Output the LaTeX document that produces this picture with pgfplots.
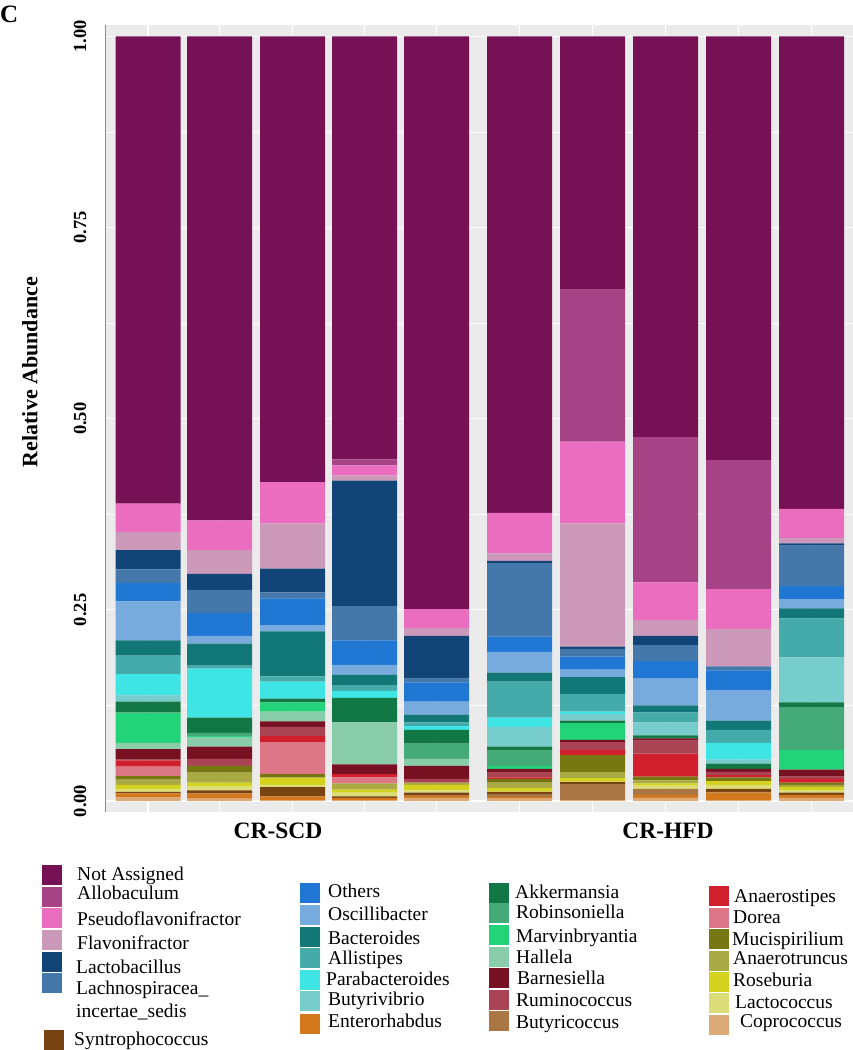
\documentclass[border=0pt]{standalone}
\usepackage{pgfplots}
\pgfplotsset{compat=1.18}
\usepackage{pgfplotstable}
\usepackage{fontspec}
\setmainfont{Liberation Serif}

\definecolor{panelgray}{HTML}{EBEBEB}
\definecolor{axgray}{HTML}{8C8C8C}
\definecolor{cNA}{HTML}{771155}
\definecolor{cAllo}{HTML}{A64386}
\definecolor{cPseu}{HTML}{EB6DBF}
\definecolor{cFlav}{HTML}{CC99BB}
\definecolor{cLacb}{HTML}{114477}
\definecolor{cLach}{HTML}{4477AA}
\definecolor{cOth}{HTML}{1F77D3}
\definecolor{cOsc}{HTML}{77AADD}
\definecolor{cBac}{HTML}{117777}
\definecolor{cAll}{HTML}{44AAAA}
\definecolor{cPar}{HTML}{3FE5E5}
\definecolor{cBuv}{HTML}{77CCCC}
\definecolor{cEnt}{HTML}{D4781E}
\definecolor{cAkk}{HTML}{117744}
\definecolor{cRob}{HTML}{44AA77}
\definecolor{cMar}{HTML}{22D377}
\definecolor{cHal}{HTML}{88CCAA}
\definecolor{cBar}{HTML}{771122}
\definecolor{cRum}{HTML}{AA4455}
\definecolor{cBuc}{HTML}{AA7744}
\definecolor{cAns}{HTML}{D21F2E}
\definecolor{cDor}{HTML}{DD7788}
\definecolor{cMuc}{HTML}{777711}
\definecolor{cAnt}{HTML}{AAAA44}
\definecolor{cRos}{HTML}{D4D21C}
\definecolor{cLcc}{HTML}{DDDD77}
\definecolor{cCop}{HTML}{DDAA77}
\definecolor{cSyn}{HTML}{774411}

% relative abundance per sample (x = bar position)
\pgfplotstableread{
x     Cop  Ent  Buc  Syn  Lcc  Ros  Ant  Muc  Dor  Ans  Rum  Bar  Hal  Mar  Rob  Akk  Buv  Par  All  Bac  Osc  Oth  Lach Lacb Flav Pseu Allo NA
148   .005 .005 0    .002 .004 .005 .007 .005 .012 .008 .001 .014 .008 .039 .001 .014 .008 .028 .024 .020 .051 .024 .018 .025 .024 .037 0    .611
219.5 .003 .007 0    .004 .005 .005 .013 .009 0    0    .009 .016 .013 .001 .004 .020 0    .064 .004 .029 .010 .030 .030 .021 .031 .039 0    .633
292.5 .001 .005 0    .012 .003 .009 .001 .004 .042 .008 .012 .007 .013 .012 0    .005 0    .022 .007 .059 .008 .035 .008 .031 .059 .054 0    .583
364.5 .001 .003 0    .002 .005 .004 .008 0    .008 .004 0    .013 .055 0    0    .032 0    .009 .007 .014 .013 .032 .045 .164 .007 .013 .008 .553
436.5 .004 .003 0    .004 .003 .007 .003 0    0    0    .005 .017 .009 0    .020 .018 0    .005 .005 .010 .017 .025 .005 .056 .010 .025 0    .749
519.5 .003 .002 .004 .003 .001 .004 .007 .005 0    .002 .007 .004 0    .004 .021 .004 .026 .012 .047 .012 .027 .020 .096 .003 .010 .053 0    .623
592.5 .001 0    .021 .003 .001 .004 .008 .022 0    .007 .010 .003 0    .022 0    .003 .009 .003 .023 .022 .010 .017 .010 .003 .161 .107 .199 .331
665.5 .004 .004 .008 0    .004 .003 .004 .005 0    .030 .017 .003 0    0    0    .004 .017 0    .013 .009 .035 .023 .021 .012 .021 .049 .190 .524
738.5 .001 .010 .001 .004 .005 .005 0    .005 0    .003 .004 .004 0    0    0    .007 .005 .022 .017 .012 .040 .026 .005 0    .049 .052 .169 .554
811.5 .004 .004 0    .003 .003 .004 .003 .003 0    .005 .003 .009 0    .026 .055 .007 .059 0    .051 .013 .012 .017 .053 .003 .007 .038 0    .618
}\abund

\newcommand{\legfont}{\fontsize{19.5}{23}\selectfont}
\newcommand{\leg}[6]{%
  \fill[#1] (#2pt,-#3pt) rectangle ++(20pt,-20pt);
  \node[anchor=base west, inner sep=0pt, font=\legfont] at (#4pt,-#5pt) {#6};}

\begin{document}
\begin{tikzpicture}
\path[use as bounding box] (0pt,-1050pt) rectangle (853pt,0pt);
\begin{axis}[
  at={(105pt,-812pt)}, anchor=south west,
  scale only axis, width=748pt, height=787pt,
  xmin=105, xmax=853, ymin=-0.0144, ymax=1.015,
  ybar stacked, bar width=65,
  xtick={148,219.5,292.5,364.5,436.5,519.5,592.5,665.5,738.5,811.5},
  xticklabels={},
  ytick={0,0.25,0.5,0.75,1},
  yticklabels={\textbf{0.00},\textbf{0.25},\textbf{0.50},\textbf{0.75},\textbf{1.00}},
  minor ytick={0.125,0.375,0.625,0.875},
  xmajorgrids, ymajorgrids, yminorgrids,
  major grid style={white, line width=1.1pt},
  minor grid style={white, line width=0.55pt},
  major tick length=0pt, minor tick length=0pt,
  axis background/.style={fill=panelgray},
  axis line style={draw=none},
  yticklabel style={rotate=90, anchor=center, yshift=25pt, font=\fontsize{18.5}{22}\selectfont\bfseries},
  ylabel={Relative Abundance},
  every axis y label/.style={at={(rel axis cs:0,0.559)}, rotate=90, anchor=center, yshift=75pt, font=\fontsize{22}{26}\selectfont\bfseries},
]
\pgfplotsinvokeforeach{Cop,Ent,Buc,Syn,Lcc,Ros,Ant,Muc,Dor,Ans,Rum,Bar,Hal,Mar,Rob,Akk,Buv,Par,All,Bac,Osc,Oth,Lach,Lacb,Flav,Pseu,Allo,NA}{
  \addplot[fill=c#1, draw=none] table[x=x, y=#1] {\abund};
}
\draw[axgray, line width=2pt] (rel axis cs:0,0) -- (rel axis cs:0,1);
\end{axis}

\node[anchor=base west, inner sep=0pt, font=\fontsize{25}{30}\selectfont\bfseries] at (0pt,-22pt) {C};
\node[anchor=base, inner sep=0pt, font=\fontsize{23.5}{28}\selectfont\bfseries] at (278pt,-838pt) {CR-SCD};
\node[anchor=base, inner sep=0pt, font=\fontsize{23.5}{28}\selectfont\bfseries] at (668pt,-838pt) {CR-HFD};

% legend column 1
\leg{cNA}{42}{865}{77}{880}{Not Assigned}
\leg{cAllo}{42}{887}{77}{899}{Allobaculum}
\leg{cPseu}{42}{908}{77}{925}{Pseudoflavonifractor}
\leg{cFlav}{42}{930}{77}{949}{Flavonifractor}
\leg{cLacb}{42}{952}{76}{973}{Lactobacillus}
\leg{cLach}{42}{973}{76}{994}{Lachnospiracea\_}
\node[anchor=base west, inner sep=0pt, font=\legfont] at (76pt,-1017pt) {incertae\_sedis};
\leg{cSyn}{44}{1030}{74}{1045}{Syntrophococcus}
% legend column 2
\leg{cOth}{300}{883}{328}{897}{Others}
\leg{cOsc}{300}{905}{328}{920}{Oscillibacter}
\leg{cBac}{300}{927}{328}{944}{Bacteroides}
\leg{cAll}{300}{948}{328}{964}{Allistipes}
\leg{cPar}{300}{970}{326}{985}{Parabacteroides}
\leg{cBuv}{300}{991}{328}{1005}{Butyrivibrio}
\leg{cEnt}{300}{1014}{328}{1027}{Enterorhabdus}
% legend column 3
\leg{cAkk}{489}{883}{515}{898}{Akkermansia}
\leg{cRob}{489}{903}{516}{918}{Robinsoniella}
\leg{cMar}{489}{925}{516}{942}{Marvinbryantia}
\leg{cHal}{489}{947}{516}{963}{Hallela}
\leg{cBar}{489}{968}{517}{984}{Barnesiella}
\leg{cRum}{489}{990}{516}{1006}{Ruminococcus}
\leg{cBuc}{489}{1011}{516}{1028}{Butyricoccus}
% legend column 4
\leg{cAns}{709}{886}{734}{902}{Anaerostipes}
\leg{cDor}{709}{908}{733}{923}{Dorea}
\leg{cMuc}{709}{929}{732}{945}{Mucispirilium}
\leg{cAnt}{709}{951}{733}{964}{Anaerotruncus}
\leg{cRos}{709}{972}{733}{986}{Roseburia}
\leg{cLcc}{709}{993}{735}{1008}{Lactococcus}
\leg{cCop}{709}{1015}{740}{1027}{Coprococcus}
\end{tikzpicture}
\end{document}
